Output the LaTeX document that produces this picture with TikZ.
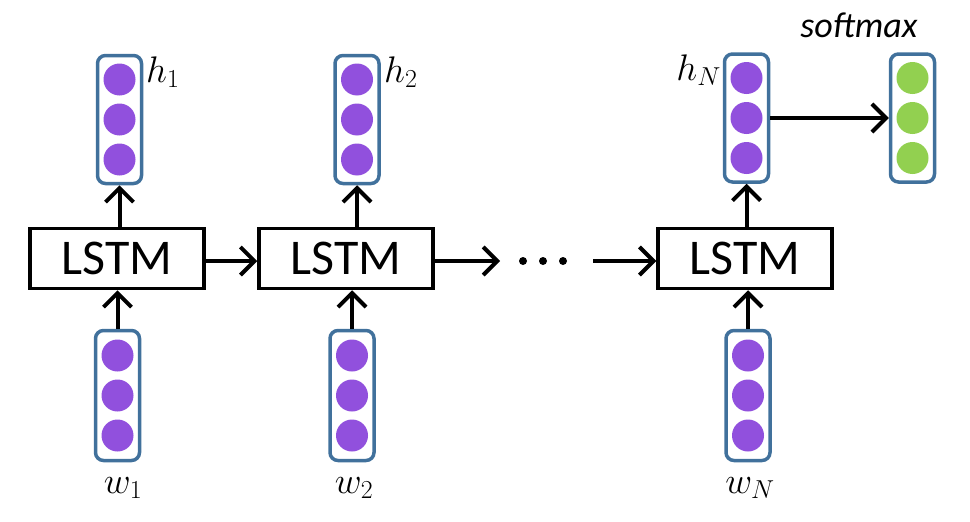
\RequirePackage{fix-cm}
\documentclass[tikz,border=0pt]{standalone}
\usepackage{fontspec}
\setmainfont{Carlito}
\usetikzlibrary{arrows.meta}
\definecolor{vecblue}{HTML}{41719C}
\definecolor{dotpurple}{HTML}{9150DD}
\definecolor{dotgreen}{HTML}{92D050}
\tikzset{
  vecbox/.style={draw=vecblue, line width=3.5pt, rounded corners=8pt, minimum width=44pt, minimum height=128pt, inner sep=0pt},
  unit/.style={circle, fill=#1, minimum size=32pt, inner sep=0pt},
  lstm/.style={draw=black, line width=3.5pt, minimum width=174pt, minimum height=60pt, inner sep=0pt, font=\fontsize{50}{60}\selectfont},
  conn/.style={line width=4pt, -{Straight Barb[length=14pt,width=28pt,line width=4pt]}},
  lab/.style={inner sep=0pt, font=\fontsize{37}{44}\selectfont},
  ell/.style={circle, fill=black, minimum size=8pt, inner sep=0pt}
}
\begin{document}
\begin{tikzpicture}[x=1pt,y=-1pt]
\useasboundingbox (0,0) rectangle (970,522);
% LSTM boxes
\node[lstm] (L1) at (117,258.5) {LSTM};
\node[lstm] (L2) at (346,258.5) {LSTM};
\node[lstm] (L3) at (745,258.5) {LSTM};
% top vectors
\node[vecbox] (t1) at (119.5,119.5) {};
\node[vecbox] (t2) at (357,119.5) {};
\node[vecbox] (t3) at (746.5,118) {};
\node[vecbox] (sm) at (912.5,118) {};
% bottom vectors
\node[vecbox, minimum height=130pt] (b1) at (117.5,395.5) {};
\node[vecbox, minimum height=130pt] (b2) at (352,395.5) {};
\node[vecbox, minimum height=130pt] (b3) at (748,395.5) {};
% units
\foreach \v in {t1,t2,t3,b1,b2,b3}{
  \node[unit=dotpurple] (\v u1) at ([yshift=-40pt]\v.center) {};
  \node[unit=dotpurple] (\v u2) at (\v.center) {};
  \node[unit=dotpurple] (\v u3) at ([yshift=40pt]\v.center) {};
}
\node[unit=dotgreen] (smu1) at ([yshift=-40pt]sm.center) {};
\node[unit=dotgreen] (smu2) at (sm.center) {};
\node[unit=dotgreen] (smu3) at ([yshift=40pt]sm.center) {};
% ellipsis
\node[ell] (d1) at (523,261) {};
\node[ell] (d2) at (543,261) {};
\node[ell] (d3) at (563,261) {};
\coordinate (e1) at (500,261);
\coordinate (e2) at (593,261);
% labels
\node[lab, anchor=base west] (h1) at (146,82) {$h_1$};
\node[lab, anchor=base west] (h2) at (384,82) {$h_2$};
\node[lab, anchor=base east] (hN) at (721,80) {$h_N$};
\node[lab, anchor=base] (w1) at (123,493) {$w_1$};
\node[lab, anchor=base] (w2) at (354,493) {$w_2$};
\node[lab, anchor=base] (wN) at (750,493) {$w_N$};
\node[inner sep=0pt, anchor=base, font=\fontsize{36}{42}\selectfont\itshape] (smlab) at (859,37) {softmax};
% connectors
\draw[conn] (L1.north -| t1) -- (t1.south);
\draw[conn] (L2.north -| t2) -- (t2.south);
\draw[conn] (L3.north -| t3) -- (t3.south);
\draw[conn] (b1.north) -- (b1.north |- L1.south);
\draw[conn] (b2.north) -- (b2.north |- L2.south);
\draw[conn] (b3.north) -- (b3.north |- L3.south);
\draw[conn] (L1.east |- e1) -- (L2.west |- e1);
\draw[conn] (L2.east |- e1) -- (e1);
\draw[conn] (e2) -- (L3.west |- e2);
\draw[conn] (t3.east |- t3u2) -- (sm.west |- t3u2);
\end{tikzpicture}
\end{document}
